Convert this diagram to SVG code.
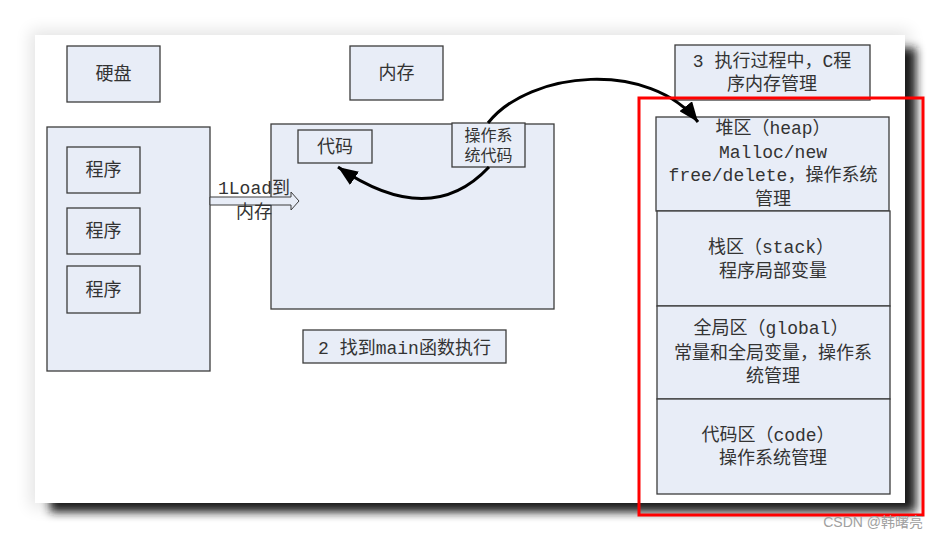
<svg xmlns="http://www.w3.org/2000/svg" width="940" height="538" viewBox="0 0 940 538">
<style>
.box{fill:#e8edf7;stroke:#3c3c3c;stroke-width:1.3}
.t{font-family:"Liberation Mono","Noto Sans CJK SC",monospace;font-size:18px;fill:#333;text-anchor:middle}
.s{font-size:16px}
.con{fill:none;stroke:#000;stroke-width:3}
.wm{font-family:"Liberation Sans","Noto Sans CJK SC",sans-serif;font-size:14px;fill:#a0a0a0;text-anchor:end}
</style>
<defs>
<filter id="blur" x="-10%" y="-10%" width="120%" height="120%"><feGaussianBlur stdDeviation="5"/></filter>
<filter id="glow" x="-10%" y="-10%" width="120%" height="120%"><feGaussianBlur stdDeviation="8"/></filter>
<marker id="ah" markerUnits="userSpaceOnUse" markerWidth="22" markerHeight="16" refX="20" refY="8" orient="auto">
<path d="M0,0 L20,8 L0,16 z" fill="#000"/>
</marker>
</defs>
<rect width="940" height="538" fill="#fff"/>
<g id="page">
<rect x="30" y="30" width="880" height="478" fill="#000" opacity="0.1" filter="url(#glow)"/>
<rect x="50" y="48" width="866" height="464" fill="#1a1a1a" filter="url(#blur)"/>
<rect x="35" y="35" width="870" height="468" fill="#fff"/>
</g>
<g id="disk-label"><rect class="box" x="67" y="46" width="93" height="56"/><text class="t" x="113.5" y="80">硬盘</text></g>
<g id="mem-label"><rect class="box" x="350" y="46" width="93" height="54"/><text class="t" x="396.5" y="79">内存</text></g>
<g id="step3"><rect class="box" x="675" y="45" width="195" height="55"/><text class="t" x="772" y="67">3 执行过程中，C程</text><text class="t" x="772" y="90">序内存管理</text></g>
<g id="disk"><rect class="box" x="47" y="127" width="163" height="244"/></g>
<g id="prog1"><rect class="box" x="67" y="147" width="73" height="46"/><text class="t" x="103.5" y="176">程序</text></g>
<g id="prog2"><rect class="box" x="67" y="208" width="73" height="46"/><text class="t" x="103.5" y="237">程序</text></g>
<g id="prog3"><rect class="box" x="67" y="266" width="73" height="47"/><text class="t" x="103.5" y="296">程序</text></g>
<g id="memory"><rect class="box" x="271" y="124" width="283" height="185"/></g>
<g id="code"><rect class="box" x="298" y="130" width="74" height="33"/><text class="t" x="335" y="153">代码</text></g>
<g id="oscode"><rect class="box" x="452" y="123" width="73" height="44"/><text class="t s" x="488.5" y="141">操作系</text><text class="t s" x="488.5" y="161">统代码</text></g>
<g id="step2"><rect class="box" x="303" y="330" width="203" height="33"/><text class="t" x="404.5" y="354">2 找到main函数执行</text></g>
<g id="heap"><rect class="box" x="656" y="117" width="233" height="94"/><text class="t" x="773" y="134">堆区（heap）</text><text class="t" x="773" y="158">Malloc/new</text><text class="t" x="773" y="181">free/delete，操作系统</text><text class="t" x="773" y="205">管理</text></g>
<g id="stack"><rect class="box" x="657" y="211" width="233" height="95"/><text class="t" x="771" y="253">栈区（stack）</text><text class="t" x="773" y="277">程序局部变量</text></g>
<g id="global"><rect class="box" x="657" y="306" width="233" height="93"/><text class="t" x="771" y="334">全局区（global）</text><text class="t" x="773" y="359">常量和全局变量，操作系</text><text class="t" x="773" y="382">统管理</text></g>
<g id="codeseg"><rect class="box" x="657" y="399" width="233" height="95"/><text class="t" x="768" y="441">代码区（code）</text><text class="t" x="773" y="464">操作系统管理</text></g>
<g id="connectors">
<polygon points="210,197 291,197 291,192 299,201 291,210 291,205 210,205" fill="#e8edf7" stroke="#3c3c3c" stroke-width="1"/>
<text class="t" x="254" y="194">1Load到</text>
<text class="t" x="254" y="218">内存</text>
<path class="con" d="M489,167 Q430,230 338,167" marker-end="url(#ah)"/>
<path class="con" d="M488,123 C530,70 650,60 698,122" marker-end="url(#ah)"/>
</g>
<rect x="639" y="98" width="284" height="417" fill="none" stroke="#ff0000" stroke-width="3"/>
<text class="wm" x="923" y="527">CSDN @韩曙亮</text>
</svg>
